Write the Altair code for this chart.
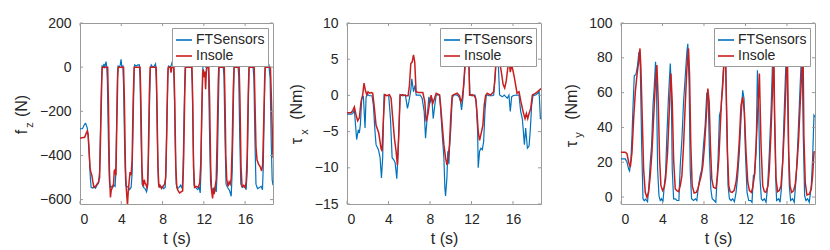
import altair as alt
import pandas as pd

SERIES = ["FTSensors", "Insole"]
COLORS = ["#0072BD", "#C81E1E"]
X_TICKS = [0, 4, 8, 12, 16]
X_DOMAIN = [0, 18.7]

# ---- panel 1: f_z (N) ----
FZ_Y_TICKS = [-600, -400, -200, 0, 200]
FZ_Y_DOMAIN = [-620, 200]
FZ_FT = [
    (0.0, -280), (0.25, -278), (0.45, -258), (0.55, -255), (0.7, -275), (0.8, -310), (0.9, -400),
    (1.0, -500), (1.08, -545), (1.2, -548), (1.35, -540), (1.5, -548), (1.65, -535), (1.8, -525),
    (1.9, -470), (2.0, -250), (2.1, -40), (2.15, 5), (2.25, 0), (2.32, 15), (2.38, -5), (2.45, 10),
    (2.52, 25), (2.58, 5), (2.65, -60), (2.75, -330), (2.85, -520), (2.92, -545), (3.05, -540),
    (3.15, -545), (3.3, -535), (3.4, -540), (3.47, -480), (3.55, -250), (3.64, -20), (3.7, 5),
    (3.8, 0), (3.9, 10), (3.98, 35), (4.05, 0), (4.15, 5), (4.22, -80), (4.32, -350), (4.42, -530),
    (4.5, -545), (4.65, -540), (4.8, -555), (4.95, -545), (5.05, -480), (5.15, -250), (5.25, -10),
    (5.3, 10), (5.45, 5), (5.6, 10), (5.75, 10), (5.82, -50), (5.92, -320), (6.02, -530), (6.15, -545),
    (6.3, -550), (6.45, -565), (6.55, -540), (6.62, -450), (6.72, -200), (6.82, -5), (6.9, 10),
    (7.05, 0), (7.2, 5), (7.32, 15), (7.4, -60), (7.5, -330), (7.6, -530), (7.75, -545), (7.95, -540),
    (8.1, -550), (8.25, -545), (8.33, -470), (8.43, -220), (8.53, -10), (8.6, 5), (8.75, 0), (8.85, 10),
    (8.95, 25), (9.05, 5), (9.12, -60), (9.22, -330), (9.32, -530), (9.45, -550), (9.6, -545),
    (9.75, -535), (9.9, -550), (9.98, -480), (10.08, -220), (10.18, -10), (10.25, 15), (10.4, 5),
    (10.55, 0), (10.7, 10), (10.8, 5), (10.88, -80), (10.97, -350), (11.05, -535), (11.2, -545),
    (11.4, -555), (11.55, -545), (11.65, -570), (11.72, -470), (11.8, -220), (11.9, -10), (11.95, 30),
    (12.05, 5), (12.2, 0), (12.35, 10), (12.45, -20), (12.55, -300), (12.65, -520), (12.75, -560),
    (12.9, -550), (13.05, -545), (13.2, -565), (13.3, -470), (13.4, -200), (13.48, -5), (13.55, 10),
    (13.7, 5), (13.85, 15), (13.95, -40), (14.05, -320), (14.15, -530), (14.3, -545), (14.5, -560),
    (14.65, -585), (14.75, -470), (14.85, -200), (14.93, -5), (15.0, 15), (15.15, 5), (15.3, 10),
    (15.38, -40), (15.48, -320), (15.58, -530), (15.75, -545), (15.95, -540), (16.1, -555),
    (16.2, -470), (16.3, -200), (16.38, -5), (16.45, 15), (16.6, 5), (16.75, 10), (16.85, -50),
    (16.95, -330), (17.05, -530), (17.2, -550), (17.4, -545), (17.55, -540), (17.68, -555),
    (17.75, -460), (17.85, -200), (17.93, -5), (18.0, 15), (18.15, 5), (18.3, 10), (18.42, -50),
    (18.52, -320), (18.62, -510), (18.7, -535),
]
FZ_IN = [
    (0.0, -322), (0.2, -320), (0.45, -318), (0.6, -300), (0.7, -290), (0.78, -305), (0.88, -380),
    (0.98, -460), (1.05, -475), (1.15, -490), (1.25, -520), (1.35, -545), (1.5, -540), (1.65, -530),
    (1.8, -520), (1.9, -500), (2.0, -300), (2.1, -80), (2.15, 0), (2.68, 0), (2.75, -150), (2.85, -470),
    (2.95, -590), (3.02, -560), (3.12, -545), (3.25, -530), (3.32, -470), (3.4, -465), (3.48, -490),
    (3.55, -300), (3.65, -50), (3.7, 0), (4.22, 0), (4.3, -150), (4.4, -450), (4.5, -560), (4.6, -625),
    (4.68, -560), (4.76, -520), (4.85, -475), (4.95, -490), (5.05, -420), (5.15, -150), (5.25, 0),
    (5.82, 0), (5.9, -150), (6.0, -450), (6.08, -530), (6.15, -540), (6.22, -510), (6.3, -525),
    (6.38, -530), (6.48, -545), (6.55, -530), (6.62, -400), (6.72, -120), (6.8, 0), (7.38, 0),
    (7.45, -150), (7.55, -450), (7.65, -545), (7.75, -535), (7.9, -550), (8.05, -540), (8.2, -530),
    (8.3, -500), (8.4, -300), (8.5, -50), (8.55, 0), (8.75, 0), (8.82, -25), (8.9, 0), (9.1, 0),
    (9.18, -150), (9.28, -450), (9.38, -545), (9.5, -560), (9.65, -570), (9.8, -565), (9.95, -560),
    (10.05, -400), (10.15, -120), (10.22, 0), (10.85, 0), (10.92, -150), (11.0, -450), (11.1, -545),
    (11.25, -540), (11.45, -545), (11.6, -525), (11.7, -440), (11.8, -200), (11.88, -30), (11.95, -10),
    (12.02, -45), (12.1, -20), (12.17, -100), (12.25, -10), (12.3, 0), (12.48, 0), (12.56, -150),
    (12.66, -450), (12.75, -560), (12.85, -595), (12.92, -550), (13.0, -575), (13.1, -540),
    (13.2, -510), (13.3, -300), (13.4, -60), (13.45, 0), (13.98, 0), (14.05, -150), (14.13, -400),
    (14.22, -510), (14.35, -540), (14.45, -520), (14.55, -530), (14.65, -505), (14.75, -350),
    (14.85, -100), (14.93, 0), (15.42, 0), (15.5, -150), (15.6, -450), (15.7, -540), (15.85, -535),
    (16.0, -545), (16.1, -520), (16.2, -400), (16.3, -120), (16.38, 0), (16.88, 0), (16.95, -150),
    (17.05, -360), (17.15, -420), (17.3, -440), (17.45, -450), (17.6, -470), (17.7, -440),
    (17.8, -250), (17.9, -40), (17.95, 0), (18.45, 0), (18.55, -150), (18.65, -330), (18.7, -410),
]

# ---- panel 2: tau_x (Nm) ----
TX_Y_TICKS = [-15, -10, -5, 0, 5, 10]
TX_Y_DOMAIN = [-15, 10]
TX_FT = [
    (0.0, -2.6), (0.39, -2.6), (0.55, -2.5), (0.71, -2.0), (0.93, -6.1), (1.09, -4.75), (1.19, -5.2),
    (1.29, -4.0), (1.42, -0.4), (1.58, -0.2), (1.74, -4.5), (1.84, -0.2), (2.0, 0.1), (2.16, -0.05),
    (2.41, -0.05), (2.54, -1.3), (2.7, -5.0), (2.8, -6.8), (3.03, -7.5), (3.19, -8.6), (3.32, -11.4),
    (3.44, -8.6), (3.57, 0.1), (3.77, 0.0), (4.02, -0.05), (4.19, -3.2), (4.35, -8.6), (4.51, -8.9),
    (4.64, -9.3), (4.8, -11.5), (4.93, -7.7), (5.12, 0.1), (5.38, -0.05), (5.63, 0.05), (5.83, -1.8),
    (5.96, -0.9), (6.15, 0.7), (6.25, 2.3), (6.41, 0.5), (6.55, 1.4), (6.67, 0.05), (7.05, 0.05),
    (7.24, -0.4), (7.44, -2.2), (7.57, -5.9), (7.7, -3.6), (7.89, -0.2), (8.02, -0.9), (8.18, -0.4),
    (8.31, -3.2), (8.44, -1.6), (8.6, 0.05), (8.92, 0.1), (9.02, -1.8), (9.18, -5.4), (9.34, -8.6),
    (9.43, -12.7), (9.5, -13.9), (9.63, -11.4), (9.72, -7.7), (9.82, -9.5), (9.88, -7.3),
    (10.01, -4.5), (10.14, -0.4), (10.3, 0.1), (10.62, 0.05), (10.79, -0.2), (10.95, -0.9),
    (11.04, -2.0), (11.17, -0.4), (11.37, 3.7), (11.5, 6.0), (11.62, 5.5), (11.75, 4.6),
    (11.85, 0.05), (12.07, -0.05), (12.33, 0.05), (12.46, -0.9), (12.59, -5.0), (12.65, -10.0),
    (12.78, -7.7), (12.91, -7.3), (13.04, -7.5), (13.17, -6.4), (13.3, -2.2), (13.43, 0.1),
    (13.69, -0.05), (14.0, -0.05), (14.14, 0.05), (14.26, 2.3), (14.39, 5.0), (14.49, 6.5),
    (14.59, 4.2), (14.71, 0.05), (14.97, -0.2), (15.16, 0.05), (15.45, -0.4), (15.61, 0.05),
    (15.74, -2.2), (15.87, -0.2), (16.0, -0.05), (16.26, 0.05), (16.58, 0.05), (16.74, -2.2),
    (16.9, -3.2), (17.1, -6.8), (17.22, -4.5), (17.39, -7.3), (17.55, -7.0), (17.68, -4.5),
    (17.8, -1.3), (17.93, -0.05), (18.19, 0.05), (18.39, 0.3), (18.52, 0.5), (18.64, -3.2),
    (18.7, -3.2),
]
TX_IN = [
    (0.0, -2.4), (0.39, -2.4), (0.55, -2.1), (0.71, -1.6), (0.87, -2.7), (1.03, -3.5), (1.19, -3.1),
    (1.35, -0.9), (1.51, 0.05), (1.64, 1.7), (1.77, 0.7), (1.9, 0.1), (2.03, 0.5), (2.16, 0.3),
    (2.35, 0.4), (2.48, 0.3), (2.64, -1.8), (2.8, -4.1), (3.06, -5.2), (3.28, -7.3), (3.38, -7.7),
    (3.51, -3.2), (3.64, 0.1), (3.83, -0.05), (4.09, 0.1), (4.25, -0.4), (4.41, -3.2), (4.57, -5.9),
    (4.73, -7.7), (4.86, -9.6), (4.99, -5.4), (5.12, 0.05), (5.38, 0.1), (5.7, -0.05), (5.89, -0.05),
    (6.02, 1.4), (6.15, 4.4), (6.28, 4.6), (6.41, 5.6), (6.53, 4.6), (6.66, 0.5), (6.83, 0.4),
    (7.31, 0.4), (7.5, -0.9), (7.63, -3.6), (7.79, -2.7), (7.95, -1.1), (8.11, 0.05), (8.27, -1.1),
    (8.44, -0.4), (8.6, 0.3), (8.92, 0.05), (9.02, -1.3), (9.18, -4.1), (9.34, -6.8), (9.5, -8.6),
    (9.63, -9.6), (9.75, -8.6), (9.88, -6.8), (10.01, -2.7), (10.14, -0.05), (10.3, 0.1),
    (10.62, 0.3), (10.85, -0.05), (10.98, -0.9), (11.11, -0.4), (11.24, 1.4), (11.37, 4.2),
    (11.5, 6.9), (11.62, 8.0), (11.75, 4.5), (11.82, 0.05), (12.07, 0.1), (12.27, -0.05),
    (12.4, -0.4), (12.52, -2.2), (12.65, -5.0), (12.78, -6.2), (12.97, -5.0), (13.1, -4.1),
    (13.23, -1.3), (13.36, -0.05), (13.52, 0.3), (13.84, 0.05), (14.0, 0.3), (14.14, 0.5),
    (14.26, 2.3), (14.39, 5.5), (14.49, 7.5), (14.62, 6.0), (14.75, 4.4), (14.9, 3.0), (15.05, 1.5),
    (15.2, 1.0), (15.35, 2.0), (15.5, 3.8), (15.62, 5.0), (15.74, 3.2), (15.87, 4.2), (16.0, 3.4),
    (16.13, 2.5), (16.26, 1.4), (16.39, 0.3), (16.58, 0.5), (16.77, -0.9), (16.97, -2.2),
    (17.16, -3.2), (17.29, -2.5), (17.42, -3.2), (17.55, -2.5), (17.71, -1.8), (17.87, 0.05),
    (18.19, 0.3), (18.52, 0.7), (18.7, 0.95),
]

# ---- panel 3: tau_y (Nm) ----
TY_Y_TICKS = [0, 20, 40, 60, 80, 100]
TY_Y_DOMAIN = [-4, 100]
TY_FT = [
    (0.0, 21.9), (0.42, 21.9), (0.58, 20), (0.74, 16), (0.83, 15), (0.96, 21.9), (1.06, 35),
    (1.15, 50.8), (1.28, 69.6), (1.44, 70.4), (1.6, 75.8), (1.73, 83.5), (1.86, 75), (1.99, 30),
    (2.12, -1.0), (2.24, -2.1), (2.37, -1.2), (2.56, -2.7), (2.69, 6.5), (2.82, 20), (2.95, 29.6),
    (3.08, 52), (3.21, 64), (3.33, 77.7), (3.42, 64), (3.53, 16), (3.66, 0.8), (3.78, -2),
    (3.91, -1.0), (4.04, -3.0), (4.17, 6.5), (4.3, 14), (4.42, 35), (4.58, 58), (4.75, 76.7),
    (4.84, 64), (4.94, 16), (5.07, -1.0), (5.23, -1.0), (5.39, -2), (5.58, -2), (5.71, 18),
    (5.87, 33), (6.03, 54.6), (6.19, 69), (6.35, 83.5), (6.44, 88), (6.57, 64), (6.67, 16),
    (6.8, -1.0), (6.99, -2), (7.18, -1.0), (7.31, -2), (7.47, 6.5), (7.63, 12.3), (7.79, 16),
    (7.95, 29.6), (8.11, 41), (8.27, 60), (8.4, 58), (8.53, 25), (8.66, 4.6), (8.79, -1.0),
    (8.98, -2), (9.14, -3), (9.23, 6.5), (9.36, 22), (9.49, 47), (9.65, 50.8), (9.81, 68),
    (9.97, 83.5), (10.07, 88), (10.19, 45), (10.32, 6.5), (10.45, -1.0), (10.61, -2), (10.77, -1.0),
    (10.93, -2.7), (11.09, 2.7), (11.25, 12.3), (11.41, 25.8), (11.57, 45), (11.73, 61.3),
    (11.86, 56.5), (11.99, 25.8), (12.15, 2.7), (12.31, -2), (12.5, -2), (12.63, -3.0), (12.76, 12.3),
    (12.89, 13), (13.02, 25.8), (13.15, 72.9), (13.28, 48), (13.4, 10.4), (13.53, -1.0), (13.66, -2),
    (13.82, -1.0), (13.98, -3.0), (14.14, 6.5), (14.3, 25.8), (14.46, 49), (14.62, 80), (14.68, 88),
    (14.81, 45), (14.94, 6.5), (15.0, -2), (15.2, -1.0), (15.33, -3.0), (15.46, 4.6), (15.59, 22),
    (15.71, 45), (15.84, 68), (15.97, 88), (16.1, 45), (16.22, 6.5), (16.35, -2), (16.54, -1.0),
    (16.7, -3.0), (16.87, 10.4), (17.03, 29.6), (17.19, 52.7), (17.35, 75.8), (17.44, 88),
    (17.57, 35), (17.7, 0.8), (17.83, -2), (17.99, -1.0), (18.15, -3.0), (18.34, 6.5), (18.47, 22),
    (18.6, 47), (18.7, 46),
]
TY_IN = [
    (0.0, 25.8), (0.42, 25.8), (0.58, 24.8), (0.74, 20), (0.9, 17.1), (1.06, 25.8), (1.22, 45),
    (1.38, 60.4), (1.54, 70), (1.7, 77.7), (1.83, 85.4), (1.92, 73.8), (2.05, 45), (2.18, 16),
    (2.34, 2.7), (2.5, -0.2), (2.66, 2.7), (2.82, 12.3), (2.98, 25.8), (3.14, 45), (3.3, 64),
    (3.46, 75.8), (3.59, 54.6), (3.72, 21.9), (3.85, 6.5), (4.01, 3.7), (4.17, 5.6), (4.3, 10.4),
    (4.49, 25.8), (4.65, 48.8), (4.81, 71), (4.94, 54.6), (5.07, 21.9), (5.23, 4.6), (5.39, 3.7),
    (5.55, 3.1), (5.71, 6.5), (5.87, 12.3), (6.03, 29.6), (6.19, 52.7), (6.35, 73.8), (6.51, 85.4),
    (6.61, 70), (6.73, 29.6), (6.86, 6.5), (7.05, 2.3), (7.25, 2.7), (7.41, 4.6), (7.57, 8.5),
    (7.73, 12.3), (7.89, 18), (8.05, 29.6), (8.21, 45), (8.37, 62.3), (8.5, 54.6), (8.62, 29.6),
    (8.75, 10.4), (8.91, 5.6), (9.11, 5.0), (9.17, 5.6), (9.3, 12.3), (9.43, 22), (9.56, 39),
    (9.68, 54.6), (9.81, 64), (9.94, 77.7), (10.04, 90), (10.13, 64), (10.26, 25.8), (10.39, 6.5),
    (10.52, 3.1), (10.71, 2.7), (10.9, 3.7), (11.09, 8.5), (11.25, 18), (11.41, 33), (11.57, 52.7),
    (11.73, 57.5), (11.89, 48.8), (12.05, 25.8), (12.22, 8.5), (12.38, 3.7), (12.57, 2.7),
    (12.7, 5.6), (12.86, 12.3), (13.02, 29.6), (13.21, 52.7), (13.34, 71), (13.5, 29.6), (13.66, 6.5),
    (13.82, 3.1), (13.98, 2.7), (14.17, 6.5), (14.3, 16), (14.46, 37.7), (14.62, 64), (14.72, 88),
    (14.81, 45), (14.94, 10.4), (15.1, 3.1), (15.26, 3.7), (15.42, 6.5), (15.59, 20), (15.74, 39),
    (15.9, 64), (16.03, 88), (16.16, 25.8), (16.29, 6.5), (16.45, 2.7), (16.64, 3.7), (16.8, 7.5),
    (16.96, 18), (17.12, 33), (17.28, 54.6), (17.44, 74), (17.54, 88), (17.63, 35), (17.76, 8.5),
    (17.92, 1.2), (18.15, 1.7), (18.34, 4.6), (18.47, 12.3), (18.6, 25.8), (18.7, 26),
]

FONT = "Liberation Sans"
TXT = "#262626"
FRAME = "#9a9a9a"
H = 181


def frame(pairs, name):
    return pd.DataFrame({"t": [p[0] for p in pairs], "v": [p[1] for p in pairs], "s": name})


def panel(ft, ins, ydom, yticks, W, lead, title_parts):
    xs = alt.Scale(domain=X_DOMAIN, nice=False, zero=False)
    ys = alt.Scale(domain=ydom, nice=False, zero=False)
    xaxis = alt.Axis(values=X_TICKS, title="t (s)", grid=False, domain=False, ticks=False, tickSize=0,
                     labelFont=FONT, labelFontSize=14, labelColor=TXT, labelPadding=8,
                     titleFont=FONT, titleFontSize=16, titleColor=TXT, titleFontWeight="normal",
                     titlePadding=4)
    yaxis = alt.Axis(values=yticks, title=None, grid=False, domain=False, ticks=False, tickSize=0,
                     labelFont=FONT, labelFontSize=14, labelColor=TXT, labelPadding=9)
    color = alt.Color("s:N", scale=alt.Scale(domain=SERIES, range=COLORS),
                      legend=alt.Legend(title=None, orient="top-right", offset=5, fillColor="white",
                                        strokeColor=FRAME, padding=3, symbolType="stroke",
                                        symbolSize=256, symbolStrokeWidth=1.6, labelFont=FONT,
                                        labelFontSize=14, labelColor=TXT, rowPadding=0,
                                        labelOffset=3))
    X = alt.X("t:Q", scale=xs, axis=xaxis)
    Y = alt.Y("v:Q", scale=ys, axis=yaxis)
    l_ft = alt.Chart(frame(ft, SERIES[0])).mark_line(strokeWidth=1.2, clip=True).encode(x=X, y=Y, color=color)
    l_in = alt.Chart(frame(ins, SERIES[1])).mark_line(strokeWidth=1.5, clip=True).encode(x=X, y=Y, color=color)

    xt = pd.DataFrame({"t": X_TICKS})
    yt = pd.DataFrame({"v": yticks})
    tb = alt.Chart(xt).mark_rule(color=FRAME, strokeWidth=1).encode(x=X, y=alt.value(H), y2=alt.value(H - 3))
    tt = alt.Chart(xt).mark_rule(color=FRAME, strokeWidth=1).encode(x=X, y=alt.value(0), y2=alt.value(3))
    tl = alt.Chart(yt).mark_rule(color=FRAME, strokeWidth=1).encode(y=Y, x=alt.value(0), x2=alt.value(3))
    tr = alt.Chart(yt).mark_rule(color=FRAME, strokeWidth=1).encode(y=Y, x=alt.value(W - 3), x2=alt.value(W))

    layers = [l_ft, l_in, tb, tt, tl, tr]
    for txt, size, dx, dy in title_parts:
        layers.append(
            alt.Chart(pd.DataFrame({"s": [txt]})).mark_text(
                font=FONT, fontSize=size, color=TXT, angle=270, align="center", baseline="alphabetic"
            ).encode(text="s:N", x=alt.value(dx), y=alt.value(dy))
        )
    spacer = alt.Chart(pd.DataFrame({"s": ["a"]})).mark_rule(opacity=0, strokeOpacity=0).encode(
        x=alt.value(-lead), x2=alt.value(-lead), y=alt.value(-14), y2=alt.value(-14))
    layers.append(spacer)
    return alt.layer(*layers).properties(width=W, height=H)


p1 = panel(FZ_FT, FZ_IN, FZ_Y_DOMAIN, FZ_Y_TICKS, 193, 71,
           [("f", 16, -53, 109), ("z", 11, -47, 102), ("(N)", 16, -53, 83)])
p2 = panel(TX_FT, TX_IN, TX_Y_DOMAIN, TX_Y_TICKS, 194, 72,
           [("τ", 16, -45, 118), ("x", 11, -39, 109), ("(Nm)", 16, -45, 79)])
p3 = panel(TY_FT, TY_IN, TY_Y_DOMAIN, TY_Y_TICKS, 194, 78,
           [("τ", 16, -44, 121), ("y", 11, -39, 112), ("(Nm)", 16, -44, 79)])

chart = alt.hconcat(p1, p2, p3, spacing=0).resolve_legend(color="independent").properties(
    padding=0, background="white"
).configure_view(stroke=FRAME, strokeWidth=1)

chart.save("out.html", embed_options={"renderer": "svg", "actions": False})
